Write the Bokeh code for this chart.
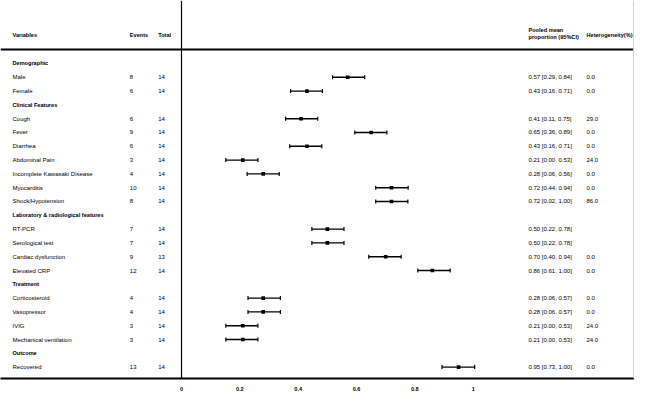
from bokeh.plotting import figure
from bokeh.models import ColumnDataSource, Range1d, Span, Whisker, TeeHead, FixedTicker, PrintfTickFormatter
from bokeh.core.properties import value
from bokeh.embed import file_html
from bokeh.resources import INLINE

# ---------------- data ----------------
groups = ["Demographic", "Clinical Features", "Laboratory & radiological features",
          "Treatment", "Outcome"]
group_sizes = [2, 7, 4, 4, 1]
variables = ["Male", "Female", "Cough", "Fever", "Diarrhea", "Abdominal Pain",
             "Incomplete Kawasaki Disease", "Myocarditis", "Shock/Hypotension",
             "RT-PCR", "Serological test", "Cardiac dysfunction", "Elevated CRP",
             "Corticosteroid", "Vasopressor", "IVIG", "Mechanical ventilation",
             "Recovered"]
events = [8, 6, 6, 9, 6, 3, 4, 10, 8, 7, 7, 9, 12, 4, 4, 3, 3, 13]
totals = [14, 14, 14, 14, 14, 14, 14, 14, 14, 14, 14, 13, 14, 14, 14, 14, 14, 14]
pooled = [0.57, 0.43, 0.41, 0.65, 0.43, 0.21, 0.28, 0.72, 0.72, 0.50, 0.50, 0.70,
          0.86, 0.28, 0.28, 0.21, 0.21, 0.95]
ci_low = [0.29, 0.16, 0.11, 0.36, 0.16, 0.00, 0.06, 0.44, 0.02, 0.22, 0.22, 0.40,
          0.61, 0.06, 0.06, 0.00, 0.00, 0.73]
ci_high = [0.84, 0.71, 0.75, 0.89, 0.71, 0.53, 0.56, 0.94, 1.00, 0.78, 0.78, 0.94,
           1.00, 0.57, 0.57, 0.53, 0.53, 1.00]
heterogeneity = ["0.0", "0.0", "29.0", "0.0", "0.0", "24.0", "0.0", "0.0", "86.0",
                 "", "", "0.0", "0.0", "0.0", "0.0", "24.0", "24.0", "0.0"]
# extents of the drawn bars
bar_low = [0.518, 0.374, 0.357, 0.594, 0.371, 0.152, 0.225, 0.666, 0.666, 0.447,
           0.447, 0.642, 0.810, 0.228, 0.228, 0.152, 0.152, 0.893]
bar_high = [0.628, 0.483, 0.467, 0.704, 0.481, 0.262, 0.335, 0.777, 0.776, 0.557,
            0.557, 0.753, 0.921, 0.339, 0.339, 0.262, 0.262, 1.005]
ticks = [0, 0.2, 0.4, 0.6, 0.8, 1]
col_headers = ["Variables", "Events", "Total", "Heterogeneity(%)"]
pooled_header = ["Pooled mean", "proportion (95%CI)"]

# ---------------- row layout ----------------
group_rows, item_rows = [], []
r = 0
for g, n in zip(groups, group_sizes):
    group_rows.append(r)
    r += 1
    for _ in range(n):
        item_rows.append(r)
        r += 1

FONT = value("Liberation Sans")
X_VAR, X_EV, X_TOT, X_POOL, X_HET = -0.5794, -0.1772, -0.0799, 1.1895, 1.3884
Y_HEAD, Y_HEAD_LINE = -2.101, -1.014
Y_POOL_HEAD = [-2.428, -1.884]

p = figure(frame_width=634, frame_height=378, output_backend="svg",
           toolbar_location=None, min_border=0, y_axis_location=None,
           x_range=Range1d(-0.6205, 1.5530), y_range=Range1d(22.826, -4.565))
p.grid.visible = False
p.outline_line_color = None
p.background_fill_color = "white"
p.border_fill_color = "white"

ax = p.xaxis[0]
ax.ticker = FixedTicker(ticks=ticks, minor_ticks=[])
ax.formatter = PrintfTickFormatter(format="%g")
ax.major_tick_line_color = None
ax.minor_tick_line_color = None
ax.axis_line_width = 2
ax.axis_line_color = "black"
ax.major_label_text_font = "Liberation Sans"
ax.major_label_text_font_size = "5.5px"
ax.major_label_text_font_style = "bold"
ax.major_label_text_color = "black"
ax.major_label_standoff = 2

# lines
p.add_layout(Span(location=0, dimension="height", line_color="black", line_width=1.2))
p.add_layout(Span(location=Y_HEAD_LINE, dimension="width", line_color="black", line_width=2))
p.add_layout(Span(location=1.5495, dimension="height", line_color="#d0d0d0", line_width=1))

# error bars and squares
src = ColumnDataSource(dict(y=item_rows, m=pooled, lo=bar_low, hi=bar_high))
p.add_layout(Whisker(source=src, base="y", lower="lo", upper="hi", dimension="width",
                     line_color="black", line_width=1.4,
                     lower_head=TeeHead(size=4, line_width=1.2, line_color="black"),
                     upper_head=TeeHead(size=4, line_width=1.2, line_color="black")))
p.scatter(x="m", y="y", source=src, marker="square", size=3.6,
          fill_color="black", line_color=None)

# texts
common = dict(text_font=FONT, text_baseline="middle", text_align="left", text_color="black")
p.text(x=[X_VAR, X_EV, X_TOT, X_HET], y=[Y_HEAD] * 4, text=col_headers,
       text_font_size="5.6px", text_font_style="bold", **common)
p.text(x=[X_POOL] * 2, y=Y_POOL_HEAD, text=pooled_header,
       text_font_size="5.6px", text_font_style="bold", **common)
p.text(x=[X_VAR] * len(groups), y=group_rows, text=groups,
       text_font_size="5.6px", text_font_style="bold", **common)

pooled_txt = [f"{m:.2f} [{a:.2f}, {b:.2f}]" for m, a, b in zip(pooled, ci_low, ci_high)]
n = len(variables)
p.text(x=[X_VAR] * n, y=item_rows, text=variables, text_font_size="6px", **common)
p.text(x=[X_EV] * n, y=item_rows, text=[str(e) for e in events], text_font_size="6px", **common)
p.text(x=[X_TOT] * n, y=item_rows, text=[str(t) for t in totals], text_font_size="6px", **common)
p.text(x=[X_POOL] * n, y=item_rows, text=pooled_txt, text_font_size="6px", **common)
p.text(x=[X_HET] * n, y=item_rows, text=heterogeneity, text_font_size="6px", **common)

open("out.html", "w").write(file_html(p, INLINE))
